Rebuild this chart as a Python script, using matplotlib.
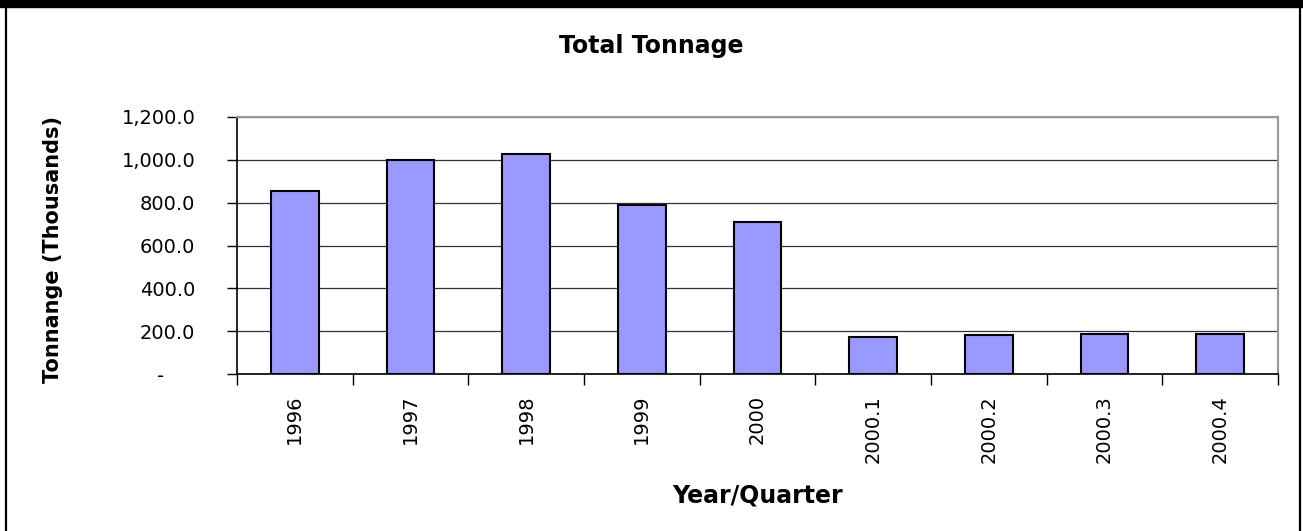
import numpy as np
import matplotlib
matplotlib.use("Agg")
import matplotlib.pyplot as plt
from matplotlib.ticker import FuncFormatter, FixedLocator
from matplotlib.patches import Rectangle
from matplotlib.lines import Line2D

periods = ['1996', '1997', '1998', '1999', '2000', '2000.1', '2000.2', '2000.3', '2000.4']
tonnage = [853, 1001, 1028, 790, 711, 173, 180, 185, 185]
y_ticks = [0, 200, 400, 600, 800, 1000, 1200]

# the original text is wide and spaced out, DejaVu gives a closer footprint
plt.rcParams['font.family'] = ['DejaVu Sans']

fig = plt.figure(figsize=(13.03, 5.31), dpi=100)
ax = fig.add_axes([237 / 1303, 1 - 374 / 531, (1278 - 237) / 1303, (374 - 117) / 531])

x = np.arange(len(periods))
ax.bar(x, tonnage, width=0.41, color='#9999FF', edgecolor='black', linewidth=1.5, zorder=3)

ax.set_xlim(-0.5, len(periods) - 0.5)
ax.set_ylim(0, 1200)

# y axis: Excel accounting style, zero shown as a dash
def fmt(v, pos):
    if v == 0:
        return '-     '
    return f'{v:,.1f}'

ax.yaxis.set_major_locator(FixedLocator(y_ticks))
ax.yaxis.set_major_formatter(FuncFormatter(fmt))
ax.tick_params(axis='y', direction='out', length=7, width=1, pad=23, labelsize=14)
ax.yaxis.grid(True, color='#333333', linewidth=0.9, zorder=0)

# x axis: labels at centres, tick marks at category boundaries
ax.set_xticks(x)
ax.set_xticklabels(periods, rotation=90, fontsize=14)
ax.tick_params(axis='x', which='major', length=0, pad=15)
ax.set_xticks(np.arange(-0.5, len(periods)), minor=True)
ax.tick_params(axis='x', which='minor', direction='out', length=8, width=1)

for side in ['top', 'right']:
    ax.spines[side].set_color('#999999')
    ax.spines[side].set_linewidth(1.5)
for side in ['left', 'bottom']:
    ax.spines[side].set_color('black')
    ax.spines[side].set_linewidth(1.2)
ax.spines['bottom'].set_zorder(4)

ax.set_ylabel('Tonnange (Thousands)', fontsize=15, fontweight='bold', va='center')
ax.yaxis.set_label_coords(-0.177, 0.4825)
ax.set_xlabel('Year/Quarter', fontsize=17, fontweight='bold', va='center')
ax.xaxis.set_label_coords(0.5, -0.472)

fig.text(0.5, 1 - 53 / 531, 'Total Tonnage', ha='center', va='baseline',
         fontsize=17, fontweight='bold')

# chart border
W, H = 1303, 531
fig.patches.append(Rectangle((0, 1 - 7 / H), 1, 7 / H, transform=fig.transFigure,
                             color='black', zorder=10))
fig.lines.append(Line2D([6 / W, 6 / W], [0, 1], transform=fig.transFigure,
                        color='black', linewidth=1.6))
fig.lines.append(Line2D([1300 / W, 1300 / W], [0, 1], transform=fig.transFigure,
                        color='black', linewidth=1.6))

fig.savefig('out.png', dpi=100)
